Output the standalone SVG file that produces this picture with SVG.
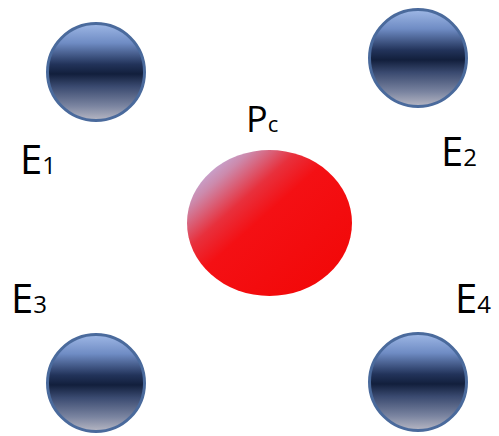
<svg xmlns="http://www.w3.org/2000/svg" width="499" height="436" viewBox="0 0 499 436">
  <defs>
    <linearGradient id="blueBall" x1="0" y1="0" x2="0" y2="1">
      <stop offset="0" stop-color="#9fb8e6"/>
      <stop offset="0.2" stop-color="#6f8cc4"/>
      <stop offset="0.42" stop-color="#22335a"/>
      <stop offset="0.52" stop-color="#121f3c"/>
      <stop offset="0.65" stop-color="#3a4a70"/>
      <stop offset="0.85" stop-color="#7a84a0"/>
      <stop offset="1" stop-color="#b8b8c4"/>
    </linearGradient>
    <linearGradient id="redBall" x1="0" y1="0.2" x2="0.8" y2="1">
      <stop offset="0" stop-color="#c4b2e2"/>
      <stop offset="0.12" stop-color="#cc8aac"/>
      <stop offset="0.3" stop-color="#e8303c"/>
      <stop offset="0.45" stop-color="#f41014"/>
      <stop offset="1" stop-color="#f20808"/>
    </linearGradient>
    <style>
      .ball { fill: url(#blueBall); stroke: #4a6a9c; stroke-width: 3; }
      .lbl { font-family: "Open Sans", "Liberation Sans", sans-serif; fill: #000; }
      .big { font-size: 40px; }
      .sub { font-size: 24px; }
    </style>
  </defs>
  <g id="connectors"/>
  <g id="E1">
    <circle class="ball" cx="96" cy="72" r="48.5"/>
    <text class="lbl" x="20" y="174"><tspan class="big">E</tspan><tspan class="sub">1</tspan></text>
  </g>
  <g id="E2">
    <circle class="ball" cx="418" cy="58" r="48.5"/>
    <text class="lbl" x="441" y="166"><tspan class="big">E</tspan><tspan class="sub">2</tspan></text>
  </g>
  <g id="E3">
    <circle class="ball" cx="96" cy="383" r="48.5"/>
    <text class="lbl" x="11" y="313"><tspan class="big">E</tspan><tspan class="sub">3</tspan></text>
  </g>
  <g id="E4">
    <circle class="ball" cx="418" cy="382" r="48.5"/>
    <text class="lbl" x="455" y="313"><tspan class="big">E</tspan><tspan class="sub">4</tspan></text>
  </g>
  <g id="Pc">
    <ellipse cx="269.5" cy="223" rx="82.5" ry="73" fill="url(#redBall)"/>
    <text class="lbl" x="246" y="132"><tspan style="font-size:36px">P</tspan><tspan style="font-size:22px">c</tspan></text>
  </g>
</svg>
